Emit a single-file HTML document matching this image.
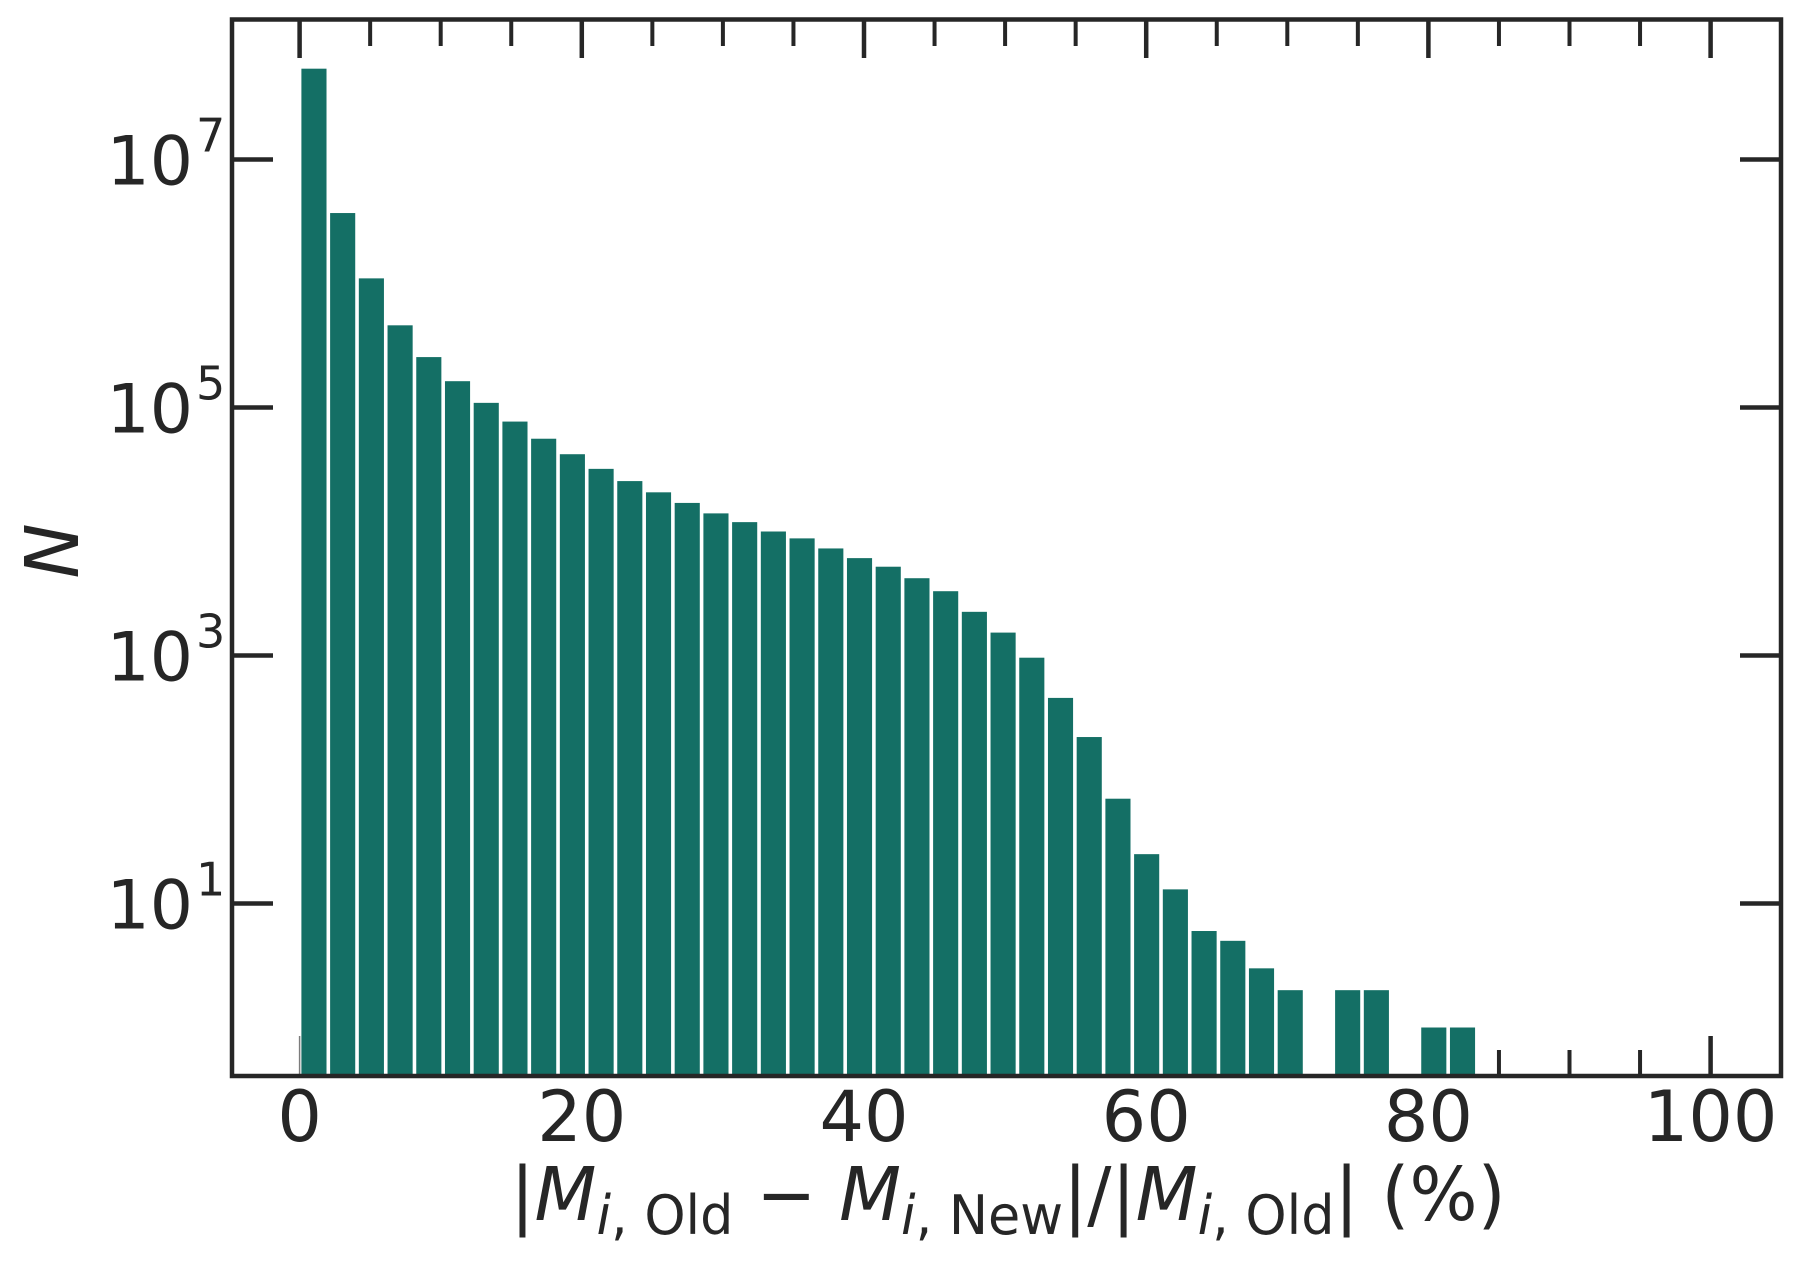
<!DOCTYPE html>
<html><head><meta charset="utf-8"><style>
html,body{margin:0;padding:0;background:#fff;}
svg{display:block;}
text{font-family:"DejaVu Sans","Liberation Sans",sans-serif;fill:#262626;}
</style></head>
<body>
<svg id="chart" width="1800" height="1263" viewBox="0 0 1800 1263" xmlns="http://www.w3.org/2000/svg">
<g id="ticks"></g>
<g id="bars"></g>
<rect x="232" y="19.5" width="1549" height="1056.5" fill="none" stroke="#262626" stroke-width="4.5"/>
<g id="labels"></g>
<text transform="translate(78,551) rotate(-90)" text-anchor="middle" font-size="74" font-style="italic">N</text>
<text x="1008" y="1220" text-anchor="middle" font-size="74" transform="translate(1008,0) scale(0.97,1) translate(-1008,0)">|<tspan font-style="italic">M</tspan><tspan font-size="54" dy="14"><tspan font-style="italic">i</tspan>, Old</tspan><tspan dy="-14"> − </tspan><tspan font-style="italic">M</tspan><tspan font-size="54" dy="14"><tspan font-style="italic">i</tspan>, New</tspan><tspan dy="-14">|/|</tspan><tspan font-style="italic">M</tspan><tspan font-size="54" dy="14"><tspan font-style="italic">i</tspan>, Old</tspan><tspan dy="-14">| (%)</tspan></text>
</svg>
<script>
const binWidth = 2.035;
const counts = [5.4e7,3.7e6,1.1e6,4.6e5,2.55e5,1.63e5,1.09e5,7.7e4,5.6e4,4.2e4,3.2e4,2.55e4,2.07e4,1.7e4,1.4e4,1.19e4,1.0e4,8.8e3,7.3e3,6.1e3,5.2e3,4.2e3,3.3e3,2.25e3,1.53e3,960,455,220,70,25,13,6,5,3,2,0,2,2,0,1,1];
const xTicks = [0,20,40,60,80,100];
const xMinor = [5,10,15,25,30,35,45,50,55,65,70,75,85,90,95];
const yExps = [1,3,5,7];

const NS = "http://www.w3.org/2000/svg";
const X0 = 299.6, XS = 14.11;
const Y1 = 903.5, DEC = 124, YB = 1076;
const xScale = v => X0 + v*XS;
const yScale = v => Y1 - (Math.log10(v) - 1)*DEC;
function mk(tag, attrs){const e=document.createElementNS(NS,tag);for(const k in attrs)e.setAttribute(k,attrs[k]);return e;}

const ticks = document.getElementById('ticks');
const bars = document.getElementById('bars');
const labels = document.getElementById('labels');

xTicks.forEach(v=>{
  const x = xScale(v);
  const t1 = mk('line',{x1:x,x2:x,y1:19.5,y2:58,stroke:'#262626','stroke-width':4.5});
  
  
  ticks.appendChild(t1);
  const t2 = mk('line',{x1:x,x2:x,y1:YB,y2:YB-40,stroke:'#262626','stroke-width':v===0?1.5:4.5,opacity:v===0?0.6:1});
  
  
  ticks.appendChild(t2);
  const l = mk('text',{x:x,y:1141,'text-anchor':'middle','font-size':70});
  l.textContent = v;
  
  
  labels.appendChild(l);
});
xMinor.forEach(v=>{
  const x = xScale(v);
  const t1 = mk('line',{x1:x,x2:x,y1:19.5,y2:46,stroke:'#262626','stroke-width':4});
  
  
  ticks.appendChild(t1);
  if (v > 84) {
    const t2 = mk('line',{x1:x,x2:x,y1:YB,y2:YB-26,stroke:'#262626','stroke-width':4});
    
    
    ticks.appendChild(t2);
  }
});
yExps.forEach(e=>{
  const y = yScale(Math.pow(10,e));
  const t1 = mk('line',{x1:232,x2:273,y1:y,y2:y,stroke:'#262626','stroke-width':4.5});
  
  
  ticks.appendChild(t1);
  const t2 = mk('line',{x1:1740,x2:1781,y1:y,y2:y,stroke:'#262626','stroke-width':4.5});
  
  
  ticks.appendChild(t2);
  const l = mk('text',{x:193,y:y+25,'text-anchor':'end','font-size':68});
  l.textContent = '10';
  
  
  labels.appendChild(l);
  const s = mk('text',{x:196,y:y-8,'text-anchor':'start','font-size':46});
  s.textContent = e;
  
  
  labels.appendChild(s);
});
counts.forEach((c,i)=>{
  if(c<=0) return;
  const x1 = xScale(i*binWidth), x2 = xScale((i+1)*binWidth);
  const y = yScale(c);
  const r = mk('rect',{x:x1+1.8,y:y,width:x2-x1-3.6,height:YB-y,fill:'#146f65'});
  
  
  bars.appendChild(r);
});
</script>
</body></html>
